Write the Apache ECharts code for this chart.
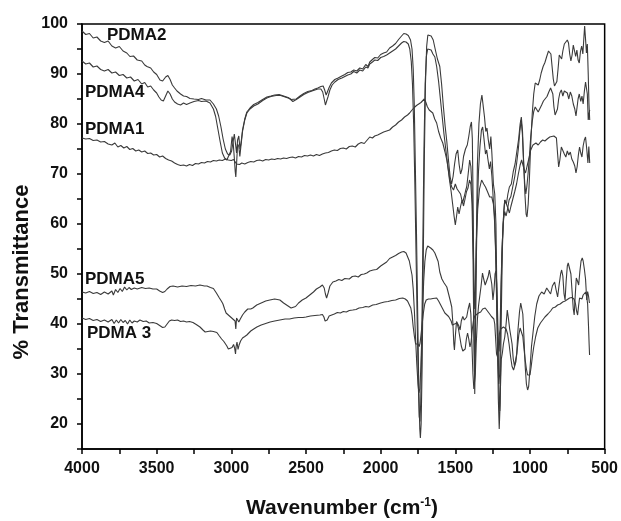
<!DOCTYPE html>
<html>
<head>
<meta charset="utf-8">
<script src="https://cdn.jsdelivr.net/npm/echarts@6/dist/echarts.min.js"></script>
<style>html,body{margin:0;padding:0;background:#fff}#c{width:621px;height:521px}</style>
</head>
<body>
<div id="c"></div>
<script>
// Tick labels
const xTicks = [4000, 3500, 3000, 2500, 2000, 1500, 1000, 500];
const yTicks = [20, 30, 40, 50, 60, 70, 80, 90, 100];
const seriesNames = ['PDMA2', 'PDMA4', 'PDMA1', 'PDMA5', 'PDMA 3'];

// [wavenumber (cm-1), % transmittance]
const pdma2 = [[4000,98.6],[3975,97.9],[3950,98.1],[3925,97.2],[3900,97.4],[3875,96.6],[3850,96.3],[3825,96.6],[3800,95.6],[3775,95.2],[3750,95.5],[3725,94.6],[3700,94.2],[3679,93.5],[3655,93.6],[3630,92.8],[3600,92.6],[3580,91.8],[3565,91.5],[3540,91.2],[3520,90.4],[3500,89.9],[3478,88.8],[3460,88.6],[3440,89.4],[3425,89.7],[3410,88.9],[3395,87.8],[3380,87.2],[3364,86.6],[3340,86.0],[3320,85.6],[3300,85.5],[3277,85.1],[3250,85.0],[3220,84.9],[3200,85.1],[3170,84.8],[3143,84.8],[3120,84.0],[3100,83.0],[3085,81.6],[3070,79.5],[3055,77.0],[3040,75.0],[3025,74.0],[3010,73.8],[2998,74.6],[2988,76.5],[2980,78.0],[2972,76.0],[2965,74.2],[2958,76.8],[2950,77.6],[2942,75.0],[2935,76.2],[2925,78.8],[2910,81.0],[2896,82.4],[2875,83.2],[2850,83.9],[2822,84.3],[2790,84.9],[2762,85.4],[2735,85.6],[2710,85.8],[2680,85.9],[2650,85.6],[2620,85.3],[2600,84.9],[2588,84.6],[2565,85.0],[2540,85.6],[2515,86.1],[2488,86.5],[2460,86.7],[2440,87.0],[2421,87.2],[2400,87.5],[2385,87.6],[2375,86.8],[2365,85.8],[2355,86.2],[2345,87.3],[2330,88.2],[2307,88.9],[2285,89.2],[2260,89.6],[2240,89.9],[2220,90.3],[2200,90.4],[2180,90.8],[2160,90.6],[2140,91.2],[2120,91.0],[2100,91.9],[2085,91.5],[2073,92.4],[2055,92.9],[2039,93.3],[2020,93.2],[2000,93.9],[1980,94.2],[1960,94.4],[1940,95.2],[1920,95.6],[1900,96.1],[1880,96.9],[1860,97.6],[1845,98.1],[1830,98.0],[1815,97.7],[1800,96.8],[1790,95.0],[1782,91.0],[1775,84.0],[1768,72.0],[1760,58.0],[1752,42.0],[1745,28.0],[1738,19.0],[1734,17.2],[1729,20.0],[1722,32.0],[1715,52.0],[1708,72.0],[1700,88.0],[1692,95.5],[1684,97.8],[1675,98.2],[1662,97.6],[1648,96.8],[1635,95.0],[1620,93.0],[1604,91.5],[1592,88.0],[1580,83.5],[1568,79.5],[1557,76.5],[1545,72.5],[1535,69.5],[1525,68.0],[1515,69.5],[1505,72.0],[1495,74.0],[1484,74.8],[1475,72.0],[1465,70.0],[1455,71.0],[1445,73.5],[1432,75.0],[1420,75.8],[1410,77.5],[1400,79.5],[1392,80.4],[1386,77.0],[1380,62.0],[1374,38.0],[1370,26.0],[1366,34.0],[1360,55.0],[1352,72.0],[1342,80.0],[1332,84.0],[1322,85.8],[1314,85.4],[1305,81.5],[1296,78.5],[1288,79.2],[1280,77.0],[1270,75.0],[1262,77.5],[1255,74.0],[1245,68.0],[1236,66.0],[1228,60.0],[1220,42.0],[1212,25.0],[1206,19.0],[1200,24.0],[1193,40.0],[1185,55.0],[1176,62.5],[1169,64.8],[1158,64.0],[1148,66.0],[1138,67.4],[1125,68.0],[1112,70.5],[1100,72.0],[1088,74.5],[1076,77.0],[1066,80.0],[1058,81.4],[1050,78.5],[1042,72.0],[1034,66.0],[1026,62.0],[1020,61.4],[1012,64.0],[1004,69.0],[995,76.0],[985,82.0],[975,86.0],[965,88.2],[955,88.6],[945,87.8],[935,88.8],[925,90.2],[912,91.5],[900,92.3],[888,93.5],[876,94.6],[868,94.8],[860,94.0],[852,91.5],[844,89.0],[836,87.6],[828,87.2],[820,88.5],[812,91.0],[804,93.8],[796,94.2],[788,93.0],[780,94.6],[770,96.0],[760,95.8],[750,96.8],[742,96.2],[734,94.0],[726,92.6],[718,93.8],[710,95.8],[702,96.2],[694,93.5],[686,94.8],[678,92.8],[670,92.2],[662,94.5],[654,95.6],[646,94.0],[640,96.8],[634,99.6],[628,97.0],[622,94.2],[616,96.0],[610,90.0],[605,84.0],[600,80.8]];

const pdma4 = [[4000,92.6],[3975,92.0],[3950,92.2],[3925,91.4],[3900,91.6],[3875,90.9],[3850,90.6],[3825,90.9],[3800,90.2],[3775,90.4],[3750,89.7],[3725,89.9],[3700,89.2],[3675,89.4],[3650,88.6],[3625,88.9],[3600,88.0],[3580,88.3],[3560,87.4],[3540,87.6],[3520,86.8],[3500,86.2],[3485,85.4],[3470,84.8],[3455,84.6],[3440,85.6],[3425,86.6],[3410,86.0],[3395,85.0],[3380,84.4],[3360,84.0],[3340,83.8],[3320,84.2],[3300,83.9],[3277,84.2],[3250,84.5],[3220,84.7],[3200,84.5],[3170,84.6],[3143,84.2],[3120,83.0],[3105,81.5],[3090,79.0],[3075,76.5],[3060,74.2],[3045,73.2],[3030,72.8],[3018,73.0],[3005,74.5],[2995,77.5],[2987,76.0],[2980,73.2],[2974,70.5],[2970,69.4],[2965,72.0],[2958,76.0],[2950,75.5],[2943,73.5],[2936,75.5],[2925,78.5],[2910,80.8],[2896,82.2],[2875,83.0],[2850,83.6],[2822,84.0],[2790,84.7],[2762,85.2],[2735,85.5],[2700,85.7],[2670,85.7],[2640,85.4],[2610,85.1],[2588,84.5],[2565,84.9],[2540,85.4],[2515,85.9],[2488,86.3],[2460,86.6],[2440,86.8],[2421,87.0],[2400,87.0],[2388,86.4],[2378,85.0],[2370,83.8],[2362,84.0],[2352,85.5],[2340,86.8],[2325,87.8],[2307,88.4],[2285,88.9],[2260,89.2],[2240,89.5],[2220,89.8],[2200,90.0],[2180,90.5],[2160,90.2],[2140,90.8],[2120,90.6],[2100,91.4],[2085,91.2],[2073,92.0],[2055,92.4],[2039,92.8],[2020,92.7],[2000,93.3],[1980,93.5],[1960,93.8],[1940,94.2],[1920,94.6],[1900,95.0],[1880,95.6],[1860,96.2],[1845,96.5],[1830,96.4],[1815,96.0],[1805,95.0],[1795,92.5],[1787,88.0],[1779,80.0],[1771,68.0],[1763,54.0],[1755,40.0],[1748,28.0],[1742,21.5],[1737,20.5],[1732,24.0],[1725,36.0],[1718,55.0],[1710,75.0],[1702,88.0],[1694,93.5],[1685,95.0],[1675,95.2],[1662,94.8],[1650,94.0],[1637,93.4],[1625,91.5],[1612,88.5],[1600,85.0],[1588,81.5],[1576,78.0],[1564,75.0],[1552,72.0],[1540,69.0],[1528,66.5],[1518,64.0],[1508,61.5],[1500,59.8],[1492,61.5],[1484,63.4],[1475,62.0],[1465,63.5],[1455,64.8],[1445,63.6],[1435,65.0],[1425,66.5],[1415,67.2],[1405,68.8],[1396,68.0],[1388,64.0],[1381,52.0],[1376,38.0],[1372,30.5],[1368,34.0],[1362,48.0],[1354,62.0],[1345,70.5],[1335,75.5],[1325,78.8],[1317,79.4],[1308,77.0],[1298,74.0],[1290,74.8],[1282,73.0],[1272,71.0],[1264,72.5],[1255,69.5],[1246,65.0],[1238,62.0],[1230,55.0],[1222,42.0],[1215,32.0],[1209,28.0],[1203,30.0],[1196,42.0],[1188,54.0],[1180,60.0],[1170,62.5],[1160,61.6],[1150,63.0],[1140,64.8],[1128,65.5],[1115,67.5],[1102,69.5],[1090,72.0],[1078,75.0],[1068,78.5],[1059,80.8],[1051,78.0],[1043,72.5],[1035,68.0],[1028,66.0],[1021,67.5],[1013,70.0],[1004,73.5],[995,77.5],[985,80.5],[975,82.5],[965,83.4],[955,83.0],[945,82.4],[935,82.8],[922,83.8],[910,84.6],[898,84.8],[886,85.5],[874,86.4],[862,87.2],[855,87.4],[847,86.0],[840,83.5],[832,81.8],[824,81.4],[816,83.0],[808,85.0],[800,86.2],[790,86.8],[780,85.6],[770,86.6],[760,87.0],[750,86.2],[740,85.0],[730,86.4],[720,85.6],[710,84.0],[700,83.0],[692,81.6],[686,82.0],[678,85.0],[670,86.0],[660,84.5],[652,85.6],[644,84.0],[636,86.5],[628,88.4],[622,88.8],[616,86.0],[610,80.8],[605,82.0],[600,82.8]];

const pdma1 = [[4000,77.2],[3975,77.0],[3950,77.1],[3925,76.7],[3900,76.8],[3875,76.4],[3850,76.5],[3825,76.0],[3800,75.8],[3780,76.2],[3760,75.4],[3740,75.7],[3720,75.2],[3700,75.5],[3680,74.9],[3660,75.1],[3640,74.6],[3620,74.8],[3600,74.4],[3580,74.6],[3560,74.1],[3540,74.2],[3520,73.8],[3500,73.9],[3480,73.4],[3460,73.6],[3440,73.1],[3420,72.8],[3400,72.6],[3380,72.2],[3360,71.9],[3340,71.7],[3320,71.8],[3300,71.6],[3280,71.9],[3260,71.7],[3240,72.1],[3220,72.0],[3200,72.3],[3180,72.2],[3160,72.5],[3140,72.4],[3120,72.7],[3100,72.6],[3080,72.8],[3060,72.7],[3040,73.0],[3020,72.8],[3000,72.7],[2985,72.9],[2975,72.6],[2965,72.0],[2955,71.7],[2945,71.9],[2930,72.2],[2910,72.0],[2890,72.3],[2870,72.5],[2850,72.4],[2830,72.7],[2810,72.8],[2790,72.6],[2770,72.9],[2750,72.8],[2730,73.0],[2710,72.9],[2690,73.1],[2670,73.0],[2650,73.2],[2630,73.1],[2610,73.3],[2590,73.4],[2570,73.2],[2550,73.5],[2530,73.4],[2510,73.7],[2490,73.6],[2470,73.8],[2450,73.6],[2430,73.9],[2410,73.7],[2390,74.0],[2370,74.2],[2350,74.3],[2330,74.6],[2310,74.8],[2290,74.7],[2270,75.1],[2250,75.2],[2230,75.0],[2210,75.5],[2190,75.6],[2170,75.4],[2150,76.0],[2130,76.3],[2110,76.1],[2090,76.8],[2073,77.4],[2055,77.2],[2040,77.6],[2020,77.8],[2000,78.1],[1980,78.4],[1960,78.6],[1940,78.8],[1920,79.4],[1900,79.8],[1880,80.4],[1860,80.8],[1840,81.4],[1820,81.8],[1806,82.2],[1790,82.8],[1775,83.3],[1760,83.7],[1745,84.0],[1730,84.3],[1718,84.7],[1708,85.0],[1698,84.4],[1688,83.5],[1675,82.8],[1662,82.6],[1651,82.2],[1638,81.0],[1625,80.2],[1612,78.5],[1598,77.2],[1584,76.2],[1570,74.5],[1557,72.8],[1545,70.5],[1535,68.5],[1524,67.4],[1512,66.8],[1500,68.0],[1488,67.0],[1477,67.4],[1465,66.0],[1452,64.2],[1440,65.5],[1430,66.8],[1424,67.4],[1414,70.0],[1404,72.8],[1396,71.5],[1388,67.0],[1380,56.0],[1374,46.0],[1370,43.0],[1366,47.0],[1360,56.0],[1350,63.0],[1338,67.0],[1324,68.8],[1310,68.0],[1298,67.4],[1285,66.5],[1270,65.4],[1256,65.4],[1245,64.0],[1236,60.0],[1228,52.0],[1220,42.0],[1213,36.0],[1207,34.5],[1201,38.0],[1194,48.0],[1186,56.0],[1178,61.0],[1169,64.8],[1158,64.0],[1148,63.2],[1138,62.2],[1128,63.5],[1115,65.0],[1102,66.5],[1090,68.0],[1078,70.0],[1066,71.8],[1056,72.8],[1049,72.6],[1040,71.0],[1030,70.2],[1020,71.5],[1008,73.0],[995,74.8],[980,75.8],[960,76.2],[945,75.8],[930,76.4],[915,76.8],[900,76.6],[885,77.0],[868,77.4],[855,77.0],[840,77.6],[823,77.2],[815,74.0],[808,71.4],[800,72.8],[790,75.4],[780,75.0],[770,74.0],[760,73.4],[750,74.6],[740,73.8],[730,74.4],[720,73.0],[710,72.4],[700,71.6],[692,70.2],[684,71.5],[676,73.8],[668,75.4],[660,74.2],[652,73.4],[644,75.6],[636,76.8],[628,77.4],[620,75.0],[612,72.2],[606,75.5],[600,72.2]];

const pdma5 = [[4000,46.4],[3975,46.2],[3950,46.5],[3925,46.1],[3900,46.3],[3875,45.9],[3850,46.4],[3825,46.0],[3800,46.6],[3790,45.8],[3775,46.9],[3760,46.3],[3745,47.1],[3730,46.5],[3715,47.4],[3700,46.8],[3685,47.3],[3670,46.9],[3650,47.2],[3630,47.0],[3600,47.3],[3575,47.1],[3550,47.2],[3525,47.0],[3500,47.0],[3480,46.6],[3460,46.3],[3445,46.5],[3430,47.0],[3410,47.5],[3390,47.6],[3360,47.4],[3330,47.6],[3300,47.5],[3270,47.7],[3240,47.6],[3210,47.8],[3180,47.6],[3163,47.6],[3140,47.3],[3120,47.1],[3100,46.2],[3080,45.2],[3065,44.5],[3056,44.0],[3045,43.0],[3035,42.2],[3020,41.8],[3005,41.4],[2990,41.0],[2980,41.4],[2975,40.6],[2970,39.0],[2965,41.2],[2958,41.6],[2950,40.4],[2940,41.0],[2925,41.8],[2910,42.4],[2890,43.0],[2870,43.0],[2856,43.2],[2830,43.8],[2800,44.2],[2770,44.6],[2742,44.8],[2710,45.0],[2675,44.8],[2650,44.2],[2620,43.6],[2600,43.2],[2588,43.1],[2570,43.5],[2550,44.2],[2525,44.8],[2500,45.2],[2475,45.8],[2450,46.4],[2430,47.0],[2407,47.4],[2390,47.8],[2378,47.2],[2370,46.0],[2362,45.2],[2352,46.2],[2340,47.6],[2320,48.4],[2300,48.6],[2280,48.9],[2260,48.7],[2240,49.1],[2227,49.2],[2210,49.0],[2190,49.5],[2170,49.6],[2150,49.4],[2130,49.9],[2110,50.0],[2093,50.2],[2073,50.6],[2050,50.8],[2027,50.9],[2000,51.6],[1980,52.0],[1960,52.4],[1940,53.1],[1920,53.4],[1900,53.7],[1880,54.1],[1860,54.4],[1845,54.5],[1830,54.2],[1819,53.8],[1808,52.6],[1798,51.0],[1790,49.8],[1782,47.0],[1774,42.5],[1766,37.0],[1758,32.0],[1750,28.0],[1744,26.2],[1738,27.0],[1732,30.5],[1726,36.0],[1720,42.0],[1712,48.5],[1704,52.5],[1695,54.8],[1685,55.6],[1675,55.8],[1665,55.2],[1650,54.8],[1637,54.2],[1625,54.0],[1615,52.5],[1604,50.4],[1590,49.0],[1575,48.2],[1557,47.4],[1545,46.0],[1535,44.8],[1524,43.4],[1516,40.0],[1510,36.0],[1506,34.8],[1500,37.5],[1492,40.5],[1484,40.8],[1476,39.6],[1468,38.8],[1460,40.6],[1450,41.5],[1440,40.8],[1430,41.2],[1424,41.4],[1414,43.0],[1404,44.2],[1396,42.0],[1389,36.0],[1382,30.0],[1376,27.0],[1371,26.8],[1366,30.0],[1360,36.0],[1352,41.0],[1344,43.8],[1337,44.2],[1328,47.5],[1318,50.2],[1310,49.0],[1300,47.8],[1290,47.4],[1280,49.5],[1272,50.8],[1264,50.8],[1256,48.0],[1248,44.8],[1241,46.8],[1234,50.0],[1228,50.6],[1222,48.0],[1216,41.0],[1211,32.0],[1206,24.0],[1202,22.6],[1198,27.0],[1192,33.0],[1185,34.2],[1178,36.0],[1169,37.4],[1160,40.0],[1152,42.8],[1144,41.0],[1136,39.0],[1128,38.8],[1120,36.0],[1112,33.0],[1104,31.6],[1096,31.4],[1089,34.0],[1080,39.0],[1070,42.5],[1062,44.2],[1055,43.8],[1048,42.0],[1040,37.0],[1032,31.5],[1024,28.0],[1016,26.8],[1009,27.5],[1000,31.0],[990,35.5],[980,38.2],[968,41.5],[955,44.0],[940,45.6],[922,46.4],[905,46.0],[888,47.2],[875,46.6],[862,46.0],[850,47.6],[835,48.4],[825,46.8],[815,45.4],[805,47.8],[795,50.0],[788,50.8],[780,49.6],[772,46.0],[765,44.8],[758,48.5],[750,51.6],[744,52.2],[735,52.6],[726,50.0],[718,46.5],[710,43.0],[704,41.8],[698,45.2],[690,49.2],[682,48.6],[674,47.8],[666,50.5],[658,52.6],[650,53.2],[644,52.6],[636,51.0],[628,49.0],[620,44.8],[614,46.5],[608,45.6],[602,44.2]];

const pdma3 = [[4000,41.2],[3975,40.9],[3950,41.1],[3925,40.7],[3900,40.9],[3875,40.5],[3850,40.8],[3825,40.4],[3800,40.9],[3785,40.1],[3770,40.8],[3755,40.2],[3740,40.9],[3725,40.3],[3710,40.7],[3695,40.0],[3680,40.8],[3665,40.2],[3650,40.6],[3630,40.4],[3612,40.8],[3590,40.5],[3570,40.6],[3550,40.2],[3525,40.3],[3500,40.1],[3480,39.7],[3460,39.3],[3445,39.4],[3430,40.0],[3415,40.6],[3400,40.8],[3380,40.7],[3360,40.8],[3340,40.5],[3320,40.6],[3300,40.4],[3280,40.5],[3257,40.3],[3235,39.9],[3210,39.4],[3190,38.8],[3175,38.4],[3163,38.4],[3140,38.6],[3120,38.5],[3097,38.3],[3080,37.6],[3065,37.0],[3050,36.5],[3043,36.2],[3030,35.6],[3020,35.0],[3008,34.7],[2995,35.3],[2985,35.9],[2978,35.2],[2972,34.0],[2968,35.5],[2962,36.4],[2955,34.9],[2948,35.8],[2938,36.6],[2925,37.2],[2910,37.5],[2896,37.8],[2870,38.6],[2850,39.0],[2829,39.4],[2800,39.8],[2770,40.1],[2740,40.4],[2710,40.6],[2675,40.8],[2640,41.0],[2610,41.0],[2580,41.2],[2550,41.3],[2520,41.3],[2500,41.4],[2470,41.6],[2440,41.7],[2407,41.8],[2390,41.9],[2380,41.4],[2372,40.6],[2366,40.2],[2358,40.8],[2345,41.6],[2333,41.8],[2310,42.0],[2290,42.3],[2270,42.2],[2250,42.5],[2230,42.4],[2210,42.7],[2187,42.8],[2165,42.9],[2145,43.2],[2120,43.3],[2100,43.5],[2080,43.4],[2053,43.8],[2030,43.9],[2000,44.2],[1975,44.4],[1950,44.5],[1925,44.7],[1900,44.8],[1875,45.1],[1852,45.2],[1835,45.0],[1820,44.6],[1808,44.3],[1798,43.2],[1790,41.8],[1782,39.4],[1774,37.5],[1766,36.0],[1758,35.6],[1750,36.0],[1742,35.5],[1736,36.2],[1730,37.8],[1722,40.0],[1714,42.2],[1705,44.0],[1695,44.8],[1680,45.0],[1665,45.0],[1650,45.1],[1637,45.2],[1625,45.2],[1612,44.6],[1598,43.8],[1584,43.0],[1570,42.2],[1557,41.8],[1545,41.5],[1537,41.4],[1528,40.6],[1520,39.8],[1512,39.6],[1505,40.0],[1497,40.4],[1488,40.2],[1480,39.2],[1470,37.4],[1460,35.6],[1450,34.6],[1442,34.4],[1434,35.0],[1426,37.0],[1418,38.2],[1410,37.0],[1402,35.4],[1394,36.5],[1386,39.0],[1378,40.8],[1370,41.6],[1360,41.8],[1345,42.2],[1330,42.4],[1317,43.0],[1300,43.2],[1285,42.6],[1270,42.0],[1258,41.5],[1250,41.4],[1242,41.0],[1236,40.0],[1230,37.0],[1224,34.0],[1218,33.5],[1212,36.0],[1205,38.0],[1196,39.0],[1186,39.2],[1178,39.4],[1169,39.4],[1160,39.0],[1150,38.0],[1140,36.0],[1130,33.5],[1120,31.5],[1110,30.8],[1102,30.8],[1094,32.5],[1085,35.0],[1075,37.8],[1066,39.2],[1057,39.4],[1048,37.5],[1040,35.0],[1032,32.8],[1024,31.0],[1016,29.8],[1008,29.4],[1000,29.8],[992,31.5],[984,33.5],[975,35.4],[962,37.5],[948,39.2],[930,40.2],[915,40.8],[900,41.4],[880,42.0],[862,42.6],[848,43.2],[830,43.4],[815,43.8],[798,44.0],[781,44.4],[765,44.6],[750,44.9],[735,45.2],[720,45.3],[714,45.4],[705,45.0],[695,44.0],[688,42.6],[681,41.8],[675,43.5],[668,45.2],[660,45.6],[652,45.0],[644,45.8],[636,46.2],[627,46.4],[620,45.4],[614,44.0],[608,39.5],[604,36.0],[601,33.8]];

const allData = [pdma2, pdma4, pdma1, pdma5, pdma3];
const FONT = '"Liberation Sans", Arial, sans-serif';
const chart = echarts.init(document.getElementById('c'), null, {renderer: 'canvas'});

const series = allData.map((d, i) => ({
  name: seriesNames[i], type: 'line', data: d, showSymbol: false, symbol: 'none',
  lineStyle: {color: '#3a3a3a', width: 1.1}, animation: false, z: 2
}));

// series labels placed next to the curves
const labelPos = [[107, 35], [85, 92], [85, 129], [85, 279], [87, 333]];
const graphics = seriesNames.map((n, i) => ({
  type: 'text', x: labelPos[i][0], y: labelPos[i][1], z: 10,
  style: {text: n, font: 'bold 17px ' + FONT, fill: '#111', textVerticalAlign: 'middle'}
}));
graphics.push({
  type: 'text', x: 22, y: 272, rotation: Math.PI / 2, z: 10,
  style: {text: '% Transmittance', font: 'bold 22px ' + FONT, fill: '#111', textAlign: 'center', textVerticalAlign: 'middle'}
});
graphics.push({
  type: 'text', x: 342, y: 508, z: 10,
  style: {
    text: 'Wavenumber (cm{sup|-1})', font: 'bold 21px ' + FONT, fill: '#111',
    textAlign: 'center', textVerticalAlign: 'middle',
    rich: {sup: {font: 'bold 12px ' + FONT, fill: '#111', verticalAlign: 'top', padding: [0, 0, 10, 0]}}
  }
});

chart.setOption({
  backgroundColor: '#fff',
  animation: false,
  grid: {left: 82, right: 16, top: 24, bottom: 72, show: true, borderColor: '#000', borderWidth: 1.5, backgroundColor: 'transparent'},
  xAxis: {
    type: 'value', inverse: true, min: 500, max: 4000, interval: 250,
    axisLine: {show: true, onZero: false, lineStyle: {color: '#000', width: 1.5}},
    axisTick: {show: true, length: 5, lineStyle: {color: '#000', width: 1.5}},
    axisLabel: {color: '#111', fontWeight: 'bold', fontSize: 16, fontFamily: FONT, margin: 12,
      formatter: v => xTicks.indexOf(v) >= 0 ? String(v) : ''},
    splitLine: {show: false}
  },
  yAxis: {
    type: 'value', min: 15, max: 100, interval: 5,
    axisLine: {show: true, onZero: false, lineStyle: {color: '#000', width: 1.5}},
    axisTick: {show: true, length: 5, lineStyle: {color: '#000', width: 1.5}},
    axisLabel: {color: '#111', fontWeight: 'bold', fontSize: 16, fontFamily: FONT, margin: 14,
      formatter: v => yTicks.indexOf(v) >= 0 ? String(v) : ''},
    splitLine: {show: false}
  },
  series: series,
  graphic: graphics
});
</script>
</body>
</html>
